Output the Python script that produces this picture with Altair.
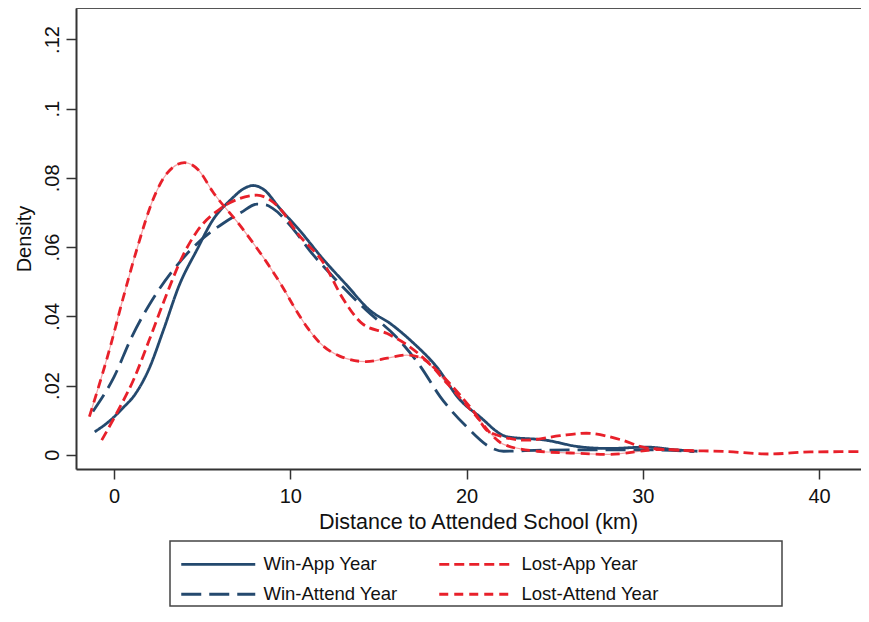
import altair as alt
import pandas as pd

SERIES = ["Win-App Year", "Win-Attend Year", "Lost-App Year", "Lost-Attend Year"]
COLORS = ["#24496E", "#24496E", "#E8202A", "#E8202A"]
DASHES = [[1, 0], [20, 8], [10, 5], [9, 6]]

win_app_x = [-1.1, -0.2, 0.5, 1.2, 2.0, 2.8, 3.7, 4.7, 5.6, 6.6, 7.4, 7.9, 8.5, 9.4, 10.5, 11.9, 13.2, 14.5, 15.7, 17.0, 18.3, 19.6, 20.7, 22.3, 24.5, 26.4, 28.1, 30.2, 31.9, 33.1]
win_app_y = [0.0066, 0.0100, 0.0135, 0.0175, 0.0250, 0.0360, 0.0490, 0.0592, 0.0678, 0.0736, 0.0770, 0.0778, 0.0766, 0.0712, 0.0650, 0.0563, 0.0490, 0.0418, 0.0378, 0.0322, 0.0254, 0.0160, 0.0112, 0.0052, 0.0042, 0.0023, 0.0018, 0.0022, 0.0014, 0.0010]

win_att_x = [-1.2, 0.0, 1.0, 2.2, 3.3, 4.5, 6.2, 7.2, 8.1, 8.6, 9.0, 10.2, 11.1, 12.6, 14.3, 16.0, 17.4, 18.5, 20.0, 21.3, 22.1, 24.3, 27.2, 30.2, 32.9]
win_att_y = [0.0125, 0.0225, 0.0340, 0.0450, 0.0530, 0.0600, 0.0669, 0.0700, 0.0724, 0.0722, 0.0712, 0.0650, 0.0590, 0.0505, 0.0418, 0.0341, 0.0254, 0.0168, 0.0081, 0.0023, 0.0010, 0.0013, 0.0014, 0.0014, 0.0009]

lost_app_x = [-0.7, 0.2, 1.1, 2.0, 3.0, 3.9, 4.7, 6.0, 7.1, 8.1, 8.8, 9.4, 10.4, 11.9, 13.0, 14.1, 15.5, 16.6, 17.9, 19.2, 20.4, 21.3, 23.4, 25.3, 26.8, 28.7, 30.2, 31.7, 34.8, 37.2, 39.5, 42.8]
lost_app_y = [0.0042, 0.0125, 0.0216, 0.0332, 0.0466, 0.0575, 0.0645, 0.0710, 0.0740, 0.0750, 0.0738, 0.0712, 0.0640, 0.0553, 0.0450, 0.0378, 0.0350, 0.0318, 0.0264, 0.0197, 0.0125, 0.0065, 0.0042, 0.0055, 0.0062, 0.0044, 0.0020, 0.0014, 0.0009, 0.0002, 0.0008, 0.0009]

lost_att_x = [-1.4, -0.2, 0.5, 1.3, 2.2, 3.0, 4.0, 4.8, 5.6, 7.2, 8.7, 9.5, 10.3, 11.0, 11.7, 12.8, 14.3, 15.5, 16.6, 17.4, 18.9, 20.4, 22.1, 24.0, 25.9, 28.1, 31.0, 33.0]
lost_att_y = [0.0110, 0.0315, 0.0450, 0.0595, 0.0736, 0.0813, 0.0844, 0.0822, 0.0760, 0.0659, 0.0553, 0.0490, 0.0420, 0.0365, 0.0322, 0.0285, 0.0269, 0.0279, 0.0288, 0.0280, 0.0206, 0.0120, 0.0030, 0.0010, 0.0005, 0.0001, 0.0015, 0.0010]

X_TICKS = [0, 10, 20, 30, 40]
Y_TICKS = [0, 0.02, 0.04, 0.06, 0.08, 0.10, 0.12]
X_DOM = [-2.16, 42.38]
Y_DOM = [-0.00413, 0.1291]

rows = []
for name, xs, ys in [
    ("Win-App Year", win_app_x, win_app_y),
    ("Win-Attend Year", win_att_x, win_att_y),
    ("Lost-App Year", lost_app_x, lost_app_y),
    ("Lost-Attend Year", lost_att_x, lost_att_y),
]:
    for j, (x, y) in enumerate(zip(xs, ys)):
        rows.append({"series": name, "km": x, "density": y, "idx": j})
df = pd.DataFrame(rows)

FONT = "Liberation Sans"
W, H = 785, 461

x_enc = alt.X(
    "km:Q",
    scale=alt.Scale(domain=X_DOM, nice=False, zero=False),
    axis=alt.Axis(
        values=X_TICKS, title="Distance to Attended School (km)", grid=False,
        domainColor="#333333", domainWidth=2, tickColor="#333333", tickWidth=1.5,
        tickSize=10, labelFont=FONT, labelFontSize=20, labelColor="#111111",
        labelPadding=7, titleFont=FONT, titleFontSize=21.5, titleFontWeight="normal",
        titleColor="#111111", titlePadding=5, titleX=402,
    ),
)
y_enc = alt.Y(
    "density:Q",
    scale=alt.Scale(domain=Y_DOM, nice=False, zero=False),
    axis=alt.Axis(
        values=Y_TICKS, title="Density", grid=False,
        labelExpr="datum.value == 0 ? '0' : substring(format(datum.value, '.2~f'), 1)",
        labelAngle=270, labelAlign="center", labelBaseline="bottom",
        domainColor="#333333", domainWidth=2, tickColor="#333333", tickWidth=1.5,
        tickSize=10, labelFont=FONT, labelFontSize=20, labelColor="#111111",
        labelPadding=4, titleFont=FONT, titleFontSize=20, titleFontWeight="normal",
        titleColor="#111111", titlePadding=8,
    ),
)

legend = alt.Legend(
    orient="none", legendX=96, legendY=547, columns=2, columnPadding=32,
    rowPadding=11, title=None, padding=0,
    symbolType="M0,0H14.8", symbolSize=100, symbolStrokeWidth=2.8,
    labelFont=FONT, labelFontSize=18.5, labelColor="#111111", labelOffset=73,
    labelLimit=400,
)

base = alt.Chart(df)

underlay = base.transform_filter(alt.datum.series == "Lost-Attend Year").mark_line(
    clip=True, interpolate="monotone", strokeWidth=1.2, color="#F4A3A6"
).encode(x=x_enc, y=y_enc, order="idx:Q")

lines = base.mark_line(clip=True, interpolate="monotone", strokeWidth=2.8).encode(
    x=x_enc,
    y=y_enc,
    color=alt.Color("series:N", scale=alt.Scale(domain=SERIES, range=COLORS), sort=SERIES, legend=legend),
    strokeDash=alt.StrokeDash("series:N", scale=alt.Scale(domain=SERIES, range=DASHES), sort=SERIES, legend=legend),
    order="idx:Q",
)

top_line = alt.Chart(pd.DataFrame({"density": [Y_DOM[1]]})).mark_rule(
    color="#555555", strokeWidth=2
).encode(y=alt.Y("density:Q"))

legend_box = alt.Chart(pd.DataFrame({"k": [0]})).mark_rect(
    fill=None, stroke="#444444", strokeWidth=1.5, clip=False
).encode(x=alt.value(94), x2=alt.value(706), y=alt.value(533), y2=alt.value(598))

chart = alt.layer(underlay, lines, top_line, legend_box).properties(
    width=W, height=H,
    autosize=alt.AutoSizeParams(type="none"),
    padding={"left": 68, "top": 0, "right": 0, "bottom": 139},
).configure_view(stroke=None).configure(background="white")

chart.save("out.html", embed_options={"renderer": "svg", "actions": False})
